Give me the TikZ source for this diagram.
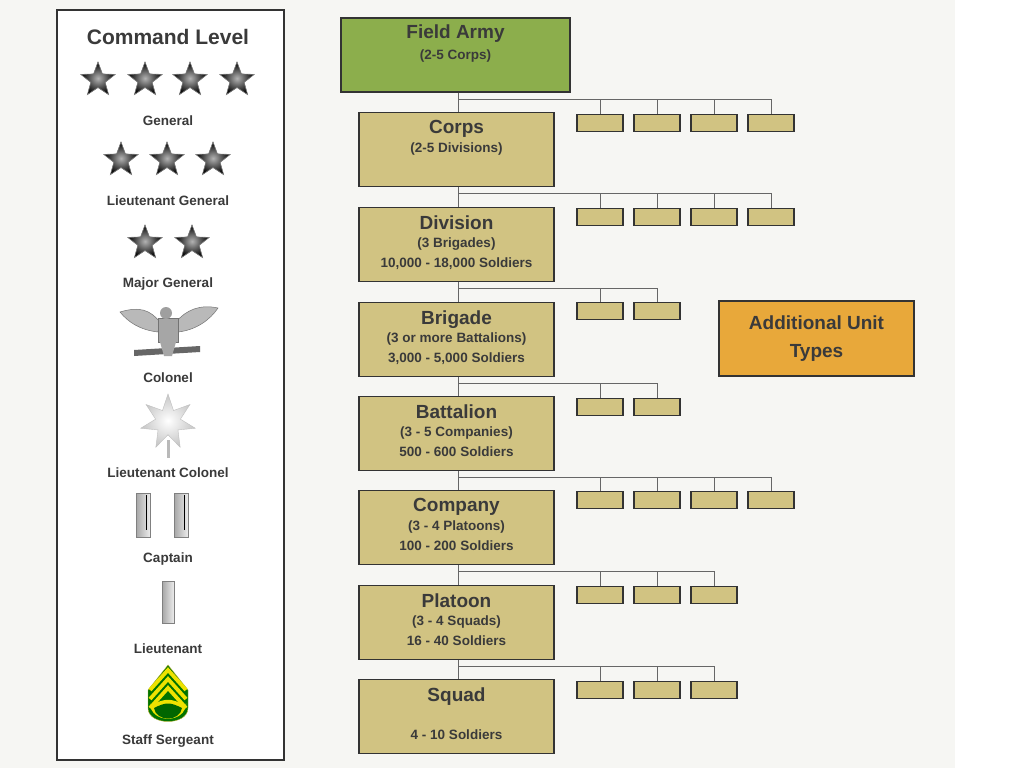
\documentclass[tikz,border=0pt]{standalone}
\usepackage{fontspec}
\setmainfont{Liberation Sans}
\usetikzlibrary{shapes.geometric}
\definecolor{bg}{HTML}{F6F6F3}
\definecolor{tan}{HTML}{D1C382}
\definecolor{armygreen}{HTML}{8CAE4C}
\definecolor{orng}{HTML}{E8A83A}
\definecolor{txt}{HTML}{3A3A3A}
\definecolor{edge}{HTML}{333333}
\tikzset{
 unit/.style={draw=edge,line width=1.3pt,fill=tan},
 sub/.style={draw=edge,line width=1.2pt,fill=tan},
 conn/.style={draw=gray!80!black,line width=0.8pt},
 ttl/.style={font=\bfseries\fontsize{19}{21}\selectfont,text=txt},
 sml/.style={font=\bfseries\fontsize{13.5}{18}\selectfont,text=txt},
 rank/.style={font=\bfseries\fontsize{13.5}{15}\selectfont,text=txt},
 st/.style={star,star points=5,star point ratio=2.4,minimum size=36pt,inner sep=0pt,fill=black!85,draw=gray,line width=0.6pt,shading=radial,inner color=gray!60,outer color=black}
}
\begin{document}
\begin{tikzpicture}[x=1pt,y=-1pt]
\useasboundingbox (0,0) rectangle (1024,768);
\fill[bg] (0,0) rectangle (955,768);
% left panel
\draw[edge,line width=1.5pt,fill=white] (57,10) rectangle (284,760);
\node[font=\bfseries\fontsize{21}{23}\selectfont,text=txt] (cl) at (168,37) {Command Level};
\foreach \x [count=\i] in {98,145,190,237}{\node[st] (g\i) at (\x,80) {};}
\node[rank] (lg) at (168,121) {General};
\foreach \x [count=\i] in {121,167,213}{\node[st] (lt\i) at (\x,160) {};}
\node[rank] (llg) at (168,201) {Lieutenant General};
\foreach \x [count=\i] in {145,192}{\node[st] (mg\i) at (\x,243) {};}
\node[rank] (lmg) at (168,284) {Major General};
% eagle
\fill[gray!55,draw=gray!90!black,line width=0.5pt] (120,312) .. controls (140,306) and (150,310) .. (160,322) -- (158,332) .. controls (140,330) and (128,322) .. cycle;
\fill[gray!55,draw=gray!90!black,line width=0.5pt] (218,308) .. controls (200,304) and (186,310) .. (176,322) -- (178,332) .. controls (196,330) and (210,320) .. cycle;
\fill[gray!70,draw=gray!90!black] (158,318) rectangle (178,342);
\fill[gray!75] (166,313) circle (6);
\fill[gray!80!black] (134,350) -- (200,346) -- (200,352) -- (134,356) -- cycle;
\fill[gray!70] (160,342) -- (176,342) -- (172,356) -- (164,356) -- cycle;
\node[rank] (lcol) at (168,378) {Colonel};
% oak leaf
\node[star,star points=7,star point ratio=2.2,minimum size=56pt,inner sep=0pt,shading=radial,inner color=white,outer color=gray!45,draw=gray!50] (oak) at (168,422) {};
\fill[gray!55] (167,440) rectangle (170,458);
\node[rank] (lltc) at (168,473) {Lieutenant Colonel};
% captain bars
\foreach \x in {143,181}{\shade[left color=gray!70,right color=gray!15,draw=gray] (\x-7,493) rectangle (\x+7,537); \draw[black,line width=0.8pt] (\x+3,495) -- (\x+3,530);}
\node[rank] (lcpt) at (168,559) {Captain};
\shade[left color=gray!70,right color=gray!15,draw=gray] (162,581) rectangle (174,623);
\node[rank] (llt) at (168,649) {Lieutenant};
% staff sergeant
\begin{scope}
\fill[green!45!black,draw=yellow!70!black] (168,665) -- (188,690) -- (188,708) .. controls (188,726) and (148,726) .. (148,708) -- (148,690) -- cycle;
\foreach \d in {0,9,18}{\draw[yellow!85!olive,line width=3.8pt] (150,690+\d) -- (168,670+\d) -- (186,690+\d);}
\fill[yellow!85!olive] (150,703) .. controls (150,724) and (186,724) .. (186,703) -- (186,705) .. controls (168,698) and (168,698) .. (150,705) -- cycle;
\fill[green!40!black] (154,708) .. controls (156,722) and (180,722) .. (182,708) .. controls (170,702) and (166,702) .. (154,708) -- cycle;
\end{scope}
\node[rank] (lss) at (168,741) {Staff Sergeant};
% main chain
\node[draw=edge,line width=1.3pt,fill=armygreen,minimum width=229pt,minimum height=74pt,inner sep=0pt] (fa) at (455.5,55) {};
\node[ttl,anchor=north] at (455.5,21) {Field Army};
\node[sml,anchor=north] at (455.5,46) {(2-5 Corps)};
\newcommand\mybox[6]{% name,top,title,line1,line2,lowy
 \node[unit,minimum width=195pt,minimum height=74pt,inner sep=0pt,anchor=north] (#1) at (456.5,#2) {};
 \node[ttl,anchor=north] at (456.5,#2+5) {#3};
 \node[sml,anchor=north] at (456.5,#2+27) {#4};
 \node[sml,anchor=north] at (456.5,#2+47) {#5};
}
\mybox{corps}{112}{Corps}{(2-5 Divisions)}{}{}
\mybox{div}{207}{Division}{(3 Brigades)}{10,000 - 18,000 Soldiers}{}
\mybox{brig}{302}{Brigade}{(3 or more Battalions)}{3,000 - 5,000 Soldiers}{}
\mybox{batt}{396}{Battalion}{(3 - 5 Companies)}{500 - 600 Soldiers}{}
\mybox{comp}{490}{Company}{(3 - 4 Platoons)}{100 - 200 Soldiers}{}
\mybox{plat}{585}{Platoon}{(3 - 4 Squads)}{16 - 40 Soldiers}{}
\mybox{squad}{679}{Squad}{}{4 - 10 Soldiers}{}
\foreach \a/\b in {fa/corps,corps/div,div/brig,brig/batt,batt/comp,comp/plat,plat/squad}{\draw[conn] (\a.south -| 458,0) -- (\b.north -| 458,0);}
% sub-unit rows: parent, hline y, box top, count
\foreach \p/\hy/\t/\n in {fa/99/114/4,corps/193/208/4,div/288/302/2,brig/383/398/2,batt/477/491/4,comp/571/586/3,plat/666/681/3}{
 \foreach \k in {1,...,\n}{
  \pgfmathsetmacro\cx{543+57*\k}
  \node[sub,minimum width=46pt,minimum height=17pt,inner sep=0pt,anchor=north] (\p s\k) at (\cx,\t) {};
  \draw[conn] (\cx,\hy) -- (\p s\k.north);
 }
 \draw[conn] (458,\hy) -- (\p s\n.north |- 0,\hy);
}
\node[draw=edge,line width=1.3pt,fill=orng,minimum width=195pt,minimum height=75pt,align=center,font=\bfseries\fontsize{19}{28}\selectfont,text=txt] (add) at (816.5,338.5) {Additional Unit\\Types};
\end{tikzpicture}
\end{document}
